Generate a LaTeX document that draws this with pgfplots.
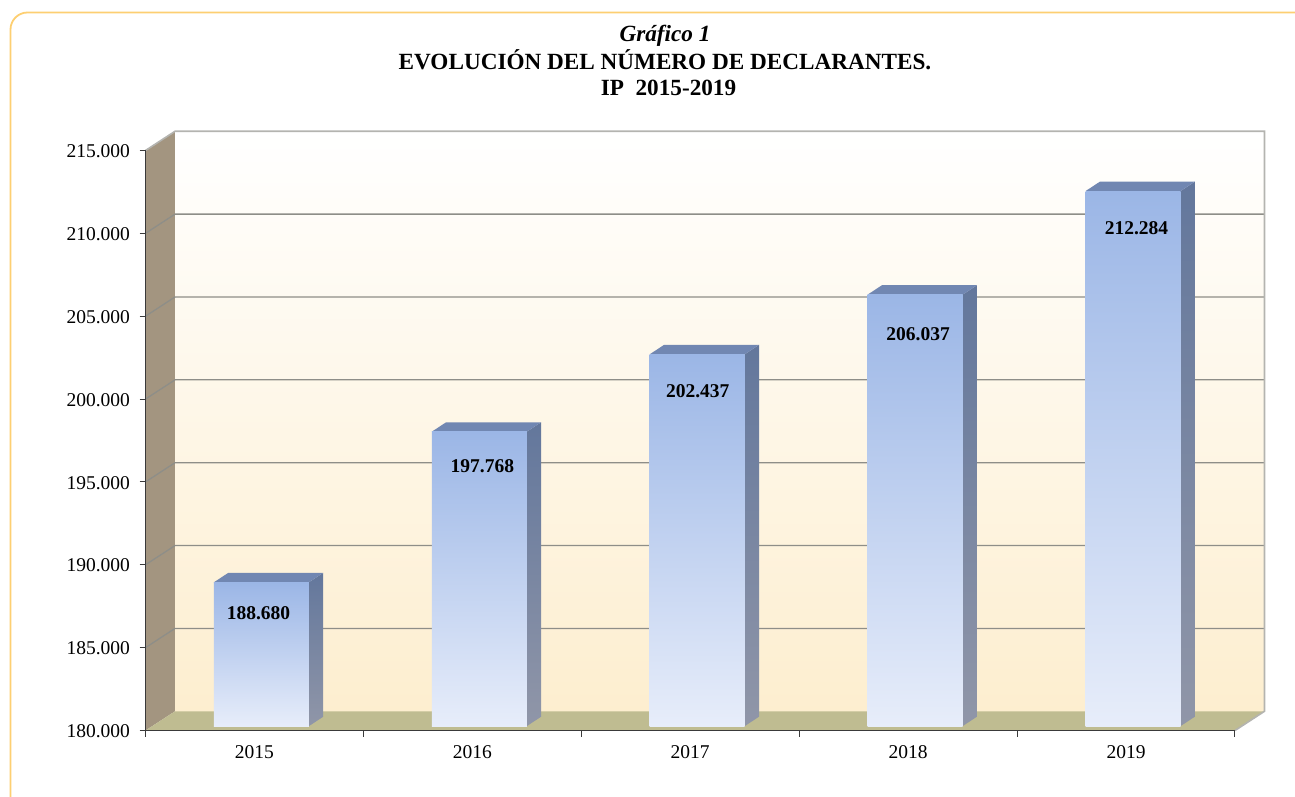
\documentclass[border=0pt]{standalone}
\usepackage{fontspec}
\setmainfont{Liberation Serif}
\usepackage{pgfplots}
\pgfplotsset{compat=1.18}
\definecolor{frameyellow}{HTML}{FDCF72}
\definecolor{wallside}{HTML}{A39580}
\definecolor{wallbottom}{HTML}{FDEECF}
\definecolor{floorcol}{HTML}{BFBC91}
\definecolor{gridcol}{HTML}{8E8E88}
\definecolor{edgecol}{HTML}{B4B4B0}
\definecolor{axiscol}{HTML}{3A3A3A}
\definecolor{bartop}{HTML}{9BB6E6}
\definecolor{barbottom}{HTML}{E7EDFA}
\definecolor{sidetop}{HTML}{63779C}
\definecolor{sidebottom}{HTML}{9096A8}
\definecolor{lidcol}{HTML}{7187B2}
\newcommand\chartfont{\fontsize{19.5}{23}\selectfont}

% grid row: slanted part on the left wall, straight part on the back wall
\newcommand\gridrow[1]{%
  \addplot[gridcol, line width=1.3pt] coordinates {(-0.5,#1) (-0.3646,\the\numexpr#1+1160\relax) (4.6354,\the\numexpr#1+1160\relax)};
}
% one bar: index, value, label x shift, label y shift
\newcommand\threedbar[4]{%
  \pgfmathsetmacro\xl{#1+0.0321-0.2180}%
  \pgfmathsetmacro\xr{#1+0.0321+0.2180}%
  \pgfmathsetmacro\xlb{\xl+0.0656}%
  \pgfmathsetmacro\xrb{\xr+0.0656}%
  \addplot[draw=none, yshift=4.4pt, top color=sidetop, bottom color=sidebottom] coordinates
    {(\xr,180000) (\xrb,180567) (\xrb,\the\numexpr#2+567\relax) (\xr,#2)} -- cycle;
  \addplot[draw=none, yshift=4.4pt, fill=lidcol] coordinates
    {(\xl,#2) (\xr,#2) (\xrb,\the\numexpr#2+567\relax) (\xlb,\the\numexpr#2+567\relax)} -- cycle;
  \addplot[ybar, bar width=95pt, bar shift=7pt, draw=none, yshift=4.4pt,
    top color=bartop, bottom color=barbottom,
    point meta=y, nodes near coords, nodes near coords align={center},
    every node near coord/.append style={anchor=center, text=black, xshift=#3pt, yshift=#4pt,
      font=\chartfont\bfseries, /pgf/number format/fixed, /pgf/number format/precision=0,
      /pgf/number format/1000 sep={.}, /pgf/number format/assume math mode=true}]
    coordinates {(#1,#2)};
}

\begin{document}
\begin{tikzpicture}[x=1pt,y=1pt]
\clip (0,0) rectangle (1295,796);
\draw[frameyellow, line width=1.8pt, rounded corners=17pt] (10.5,-30) rectangle (1340,783.5);
\begin{axis}[
  at={(145.5pt,65.5pt)}, anchor=south west,
  scale only axis, width=1089.5pt, height=580pt,
  xmin=-0.5, xmax=4.5, ymin=180000, ymax=215000,
  axis x line=bottom, axis y line=left,
  axis line style={-, axiscol, line width=1.2pt},
  axis on top, clip=false, no markers,
  tick align=outside, tick style={axiscol, line width=1pt}, major tick length=6pt,
  xtick={-0.5,0.5,1.5,2.5,3.5,4.5}, xticklabels={},
  extra x ticks={0,1,2,3,4}, extra x tick labels={2015,2016,2017,2018,2019},
  extra x tick style={major tick length=0pt, xticklabel style={yshift=-11pt}},
  ytick={180000,185000,190000,195000,200000,205000,210000,215000},
  scaled y ticks=false,
  yticklabel style={xshift=-6pt, yshift=-0.8pt, /pgf/number format/fixed, /pgf/number format/precision=0,
    /pgf/number format/1000 sep={.}, /pgf/number format/assume math mode=true},
  tick label style={font=\chartfont, text=black},
]
% walls and floor
\addplot[draw=none, fill=wallside] coordinates {(-0.5,180000) (-0.3646,181160) (-0.3646,216160) (-0.5,215000)} -- cycle;
\addplot[draw=none, top color=white, bottom color=wallbottom] coordinates {(-0.3646,181160) (4.6354,181160) (4.6354,216160) (-0.3646,216160)} -- cycle;
\addplot[draw=none, fill=floorcol] coordinates {(-0.5,180000) (4.5,180000) (4.6354,181160) (-0.3646,181160)} -- cycle;
\gridrow{185000}
\gridrow{190000}
\gridrow{195000}
\gridrow{200000}
\gridrow{205000}
\gridrow{210000}
% back wall outline
\addplot[edgecol, line width=1.6pt] coordinates {(-0.5,215000) (-0.3646,216160) (4.6354,216160) (4.6354,181160) (4.5,180000)};
% bars
\threedbar{0}{188680}{4}{-31}
\threedbar{1}{197768}{10}{-34}
\threedbar{2}{202437}{7.5}{-37}
\threedbar{3}{206037}{10}{-40}
\threedbar{4}{212284}{10.5}{-37.5}
\end{axis}
\node[font=\fontsize{23.2}{27}\selectfont\bfseries\itshape] at (665,760) {Gráfico 1};
\node[font=\fontsize{23.2}{27}\selectfont\bfseries] at (665,736.5) {EVOLUCIÓN DEL NÚMERO DE DECLARANTES.};
\node[font=\fontsize{23.2}{27}\selectfont\bfseries] at (668.5,708) {IP~~2015-2019};
\end{tikzpicture}
\end{document}
